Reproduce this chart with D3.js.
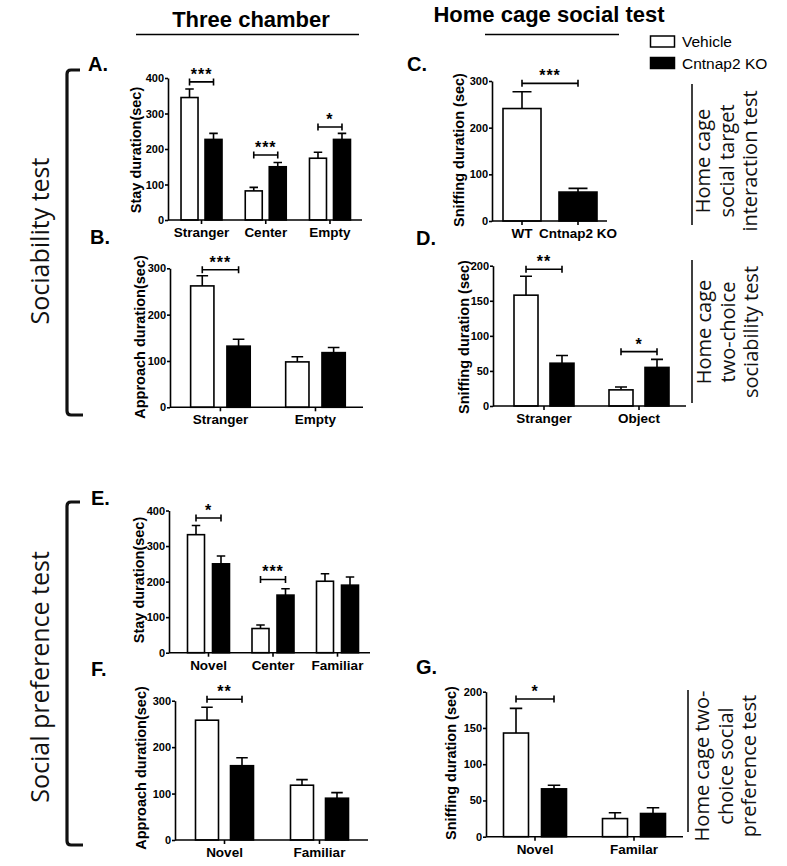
<!DOCTYPE html>
<html>
<head>
<meta charset="utf-8">
<script src="https://cdn.jsdelivr.net/npm/d3@7"></script>
<style>
  body { margin: 0; background: #fff; }
  svg { display: block; }
</style>
</head>
<body>
<svg id="fig" width="787" height="866"></svg>
<script>
// ---- data ----
var groups = ["Vehicle", "Cntnap2 KO"];

var catsA = ["Stranger", "Center", "Empty"];
var vehA = [345, 82, 174], vehSemA = [24, 10, 17];
var koA  = [227, 150, 227], koSemA = [17, 12, 17];
var ticksA = [0, 100, 200, 300, 400];
var sigA = [["Stranger", 389, "***"], ["Center", 183, "***"], ["Empty", 262, "*"]];

var catsB = ["Stranger", "Empty"];
var vehB = [262, 98], vehSemB = [22, 11];
var koB  = [132, 118], koSemB = [15, 11];
var ticksB = [0, 100, 200, 300];
var sigB = [["Stranger", 297, "***"]];

var catsC = ["WT", "Cntnap2 KO"];
var valC = [241, 62], semC = [36, 8];
var ticksC = [0, 100, 200, 300];
var sigC = [["WT", 295, "***"]];

var catsD = ["Stranger", "Object"];
var vehD = [158, 23], vehSemD = [27, 4];
var koD  = [61, 55], koSemD = [11, 11.5];
var ticksD = [0, 50, 100, 150, 200];
var sigD = [["Stranger", 195, "**"], ["Object", 77.5, "*"]];

var catsE = ["Novel", "Center", "Familiar"];
var vehE = [332, 68, 201], vehSemE = [26, 10, 21];
var koE  = [250, 162, 190], koSemE = [22, 18, 23];
var ticksE = [0, 100, 200, 300, 400];
var sigE = [["Novel", 379, "*"], ["Center", 206, "***"]];

var catsF = ["Novel", "Familiar"];
var vehF = [258, 118], vehSemF = [28, 12];
var koF  = [160, 90], koSemF = [17, 12];
var ticksF = [0, 100, 200, 300];
var sigF = [["Novel", 303, "**"]];

var catsG = ["Novel", "Familar"];
var vehG = [143, 25], vehSemG = [34, 8];
var koG  = [66, 32], koSemG = [5, 8];
var ticksG = [0, 50, 100, 150, 200];
var sigG = [["Novel", 190, "*"]];

var FONT = '"Liberation Sans", Arial, Helvetica, sans-serif';
var SIDE = '"Open Sans", "Noto Sans", sans-serif';

var svg = d3.select("#fig");

// ---- panels ----
var panels = [
  { letter: "A.", lx: 88, ly: 71, ylabel: "Stay duration(sec)", ylx: 136, yly: 150,
    cats: catsA, veh: vehA, vehSem: vehSemA, ko: koA, koSem: koSemA, ticks: ticksA, sig: sigA,
    ax: 168, axR: 362, bandL: 169.4, bandR: 362.1, y0: 220, yTop: 78, yMax: 400, barW: 17, gap: 7 },
  { letter: "B.", lx: 90, ly: 244, ylabel: "Approach duration(sec)", ylx: 140, yly: 337,
    cats: catsB, veh: vehB, vehSem: vehSemB, ko: koB, koSem: koSemB, ticks: ticksB, sig: sigB,
    ax: 170, axR: 363, bandL: 172.9, bandR: 363, y0: 407.3, yTop: 268.3, yMax: 300, barW: 23.3, gap: 13 },
  { letter: "C.", lx: 407, ly: 71, ylabel: "Sniffing duration (sec)", ylx: 459, yly: 150,
    cats: catsC, veh: valC, vehSem: semC, ko: null, ticks: ticksC, sig: sigC,
    ax: 492, axR: 607, bandL: 494, bandR: 606, y0: 221, yTop: 81, yMax: 300, barW: 38, gap: 0 },
  { letter: "D.", lx: 416, ly: 245, ylabel: "Sniffing duration (sec)", ylx: 464, yly: 337,
    cats: catsD, veh: vehD, vehSem: vehSemD, ko: koD, koSem: koSemD, ticks: ticksD, sig: sigD,
    ax: 493, axR: 686, bandL: 496.5, bandR: 686.5, y0: 406, yTop: 265.7, yMax: 200, barW: 24, gap: 12 },
  { letter: "E.", lx: 91, ly: 505, ylabel: "Stay duration(sec)", ylx: 138.5, yly: 580,
    cats: catsE, veh: vehE, vehSem: vehSemE, ko: koE, koSem: koSemE, ticks: ticksE, sig: sigE,
    ax: 169, axR: 370, bandL: 176.25, bandR: 369.75, y0: 652.7, yTop: 510.5, yMax: 400, barW: 17, gap: 8 },
  { letter: "F.", lx: 91, ly: 676, ylabel: "Approach duration(sec)", ylx: 141, yly: 768,
    cats: catsF, veh: vehF, vehSem: vehSemF, ko: koF, koSem: koSemF, ticks: ticksF, sig: sigF,
    ax: 175, axR: 368, bandL: 177, bandR: 367, y0: 840, yTop: 700.7, yMax: 300, barW: 23, gap: 12 },
  { letter: "G.", lx: 416, ly: 674, ylabel: "Sniffing duration (sec)", ylx: 451, yly: 763,
    cats: catsG, veh: vehG, vehSem: vehSemG, ko: koG, koSem: koSemG, ticks: ticksG, sig: sigG,
    ax: 486, axR: 683, bandL: 485.5, bandR: 683.5, y0: 836.7, yTop: 691.7, yMax: 200, barW: 25, gap: 13 }
];

function drawPanel(p) {
  var x = d3.scaleBand().domain(p.cats).range([p.bandL, p.bandR]);
  var y = d3.scaleLinear().domain([0, p.yMax]).range([p.y0, p.yTop]);
  var bw = x.bandwidth();
  var c = function(cat) { return x(cat) + bw / 2; };
  var off = p.gap / 2 + p.barW / 2;
  var g = svg.append("g");

  var bars = [];
  p.cats.forEach(function(cat, i) {
    if (p.ko) {
      bars.push({ cx: c(cat) - off, v: p.veh[i], e: p.vehSem[i], fill: "#fff" });
      bars.push({ cx: c(cat) + off, v: p.ko[i], e: p.koSem[i], fill: "#000" });
    } else {
      bars.push({ cx: c(cat), v: p.veh[i], e: p.vehSem[i], fill: i ? "#000" : "#fff" });
    }
  });

  g.selectAll(".err").data(bars).enter().append("path")
    .attr("d", function(d) {
      var yt = y(d.v + d.e), cw = p.barW * 0.25;
      return "M" + d.cx + "," + y(d.v) + "V" + yt + "M" + (d.cx - cw) + "," + yt + "H" + (d.cx + cw);
    })
    .attr("fill", "none").attr("stroke", "#000").attr("stroke-width", 1.6);

  g.selectAll(".bar").data(bars).enter().append("rect")
    .attr("x", function(d) { return d.cx - p.barW / 2; })
    .attr("y", function(d) { return y(d.v); })
    .attr("width", p.barW)
    .attr("height", function(d) { return y(0) - y(d.v); })
    .attr("fill", function(d) { return d.fill; })
    .attr("stroke", "#000").attr("stroke-width", 1.6);

  // axes
  var ya = g.append("g").attr("transform", "translate(" + p.ax + ",0)")
    .call(d3.axisLeft(y).tickValues(p.ticks).tickSize(3).tickSizeOuter(0).tickPadding(1));
  ya.selectAll("text").style("font", "bold 11px " + FONT).attr("fill", "#000");

  var xa = g.append("g").attr("transform", "translate(0," + p.y0 + ")")
    .call(d3.axisBottom(x).tickSize(4).tickSizeOuter(0).tickPadding(3.5));
  xa.select(".domain").remove();
  xa.selectAll("text").style("font", "bold 13.5px " + FONT).attr("fill", "#000");

  g.append("line")
    .attr("x1", p.ax).attr("x2", p.axR).attr("y1", p.y0).attr("y2", p.y0)
    .attr("stroke", "#000").attr("stroke-width", 1.6);
  g.selectAll(".domain, .tick line").attr("stroke", "#000").attr("stroke-width", 1.6);

  // y label
  g.append("text")
    .attr("transform", "translate(" + p.ylx + "," + p.yly + ") rotate(-90)")
    .attr("text-anchor", "middle").attr("dy", "0.35em")
    .style("font", "bold 14.5px " + FONT)
    .text(p.ylabel);

  // panel letter
  g.append("text").attr("x", p.lx).attr("y", p.ly)
    .style("font", "bold 20px " + FONT).text(p.letter);

  // significance brackets
  p.sig.forEach(function(s) {
    var x1, x2;
    if (p.ko) { x1 = c(s[0]) - off; x2 = c(s[0]) + off; }
    else { x1 = c(p.cats[0]); x2 = c(p.cats[1]); }
    var yy = y(s[1]);
    g.append("path")
      .attr("d", "M" + x1 + "," + (yy - 3.5) + "V" + (yy + 3.5) + "M" + x1 + "," + yy + "H" + x2 +
                 "M" + x2 + "," + (yy - 3.5) + "V" + (yy + 3.5))
      .attr("fill", "none").attr("stroke", "#000").attr("stroke-width", 1.6);
    g.append("text").attr("x", (x1 + x2) / 2).attr("y", yy - 2)
      .attr("text-anchor", "middle")
      .style("font", "bold 16px " + FONT).style("letter-spacing", "1px")
      .text(s[2]);
  });
}

panels.forEach(drawPanel);

// ---- titles ----
svg.append("text").attr("x", 251).attr("y", 27).attr("text-anchor", "middle")
  .style("font", "bold 22px " + FONT).text("Three chamber");
svg.append("line").attr("x1", 136).attr("x2", 359).attr("y1", 34.5).attr("y2", 34.5)
  .attr("stroke", "#000").attr("stroke-width", 1.5);
svg.append("text").attr("x", 549).attr("y", 22).attr("text-anchor", "middle")
  .style("font", "bold 22px " + FONT).text("Home cage social test");
svg.append("line").attr("x1", 485).attr("x2", 619).attr("y1", 34.5).attr("y2", 34.5)
  .attr("stroke", "#000").attr("stroke-width", 1.5);

// ---- legend ----
var legend = svg.append("g");
groups.forEach(function(name, i) {
  var yy = 36 + i * 21.5;
  legend.append("rect").attr("x", 650.5).attr("y", yy).attr("width", 24).attr("height", 11)
    .attr("fill", i ? "#000" : "#fff").attr("stroke", "#000").attr("stroke-width", 1.5);
  legend.append("text").attr("x", 682).attr("y", yy + 11)
    .style("font", "15.5px " + FONT).text(name);
});

// ---- right side labels ----
var sideC = ["Home cage", "social target", "interaction test"];
var sideD = ["Home cage", "two-choice", "sociability test"];
var sideG = ["Home cage two-", "choice social", "preference test"];

function sideLabel(lines, lineX, yA, yB, x0, cy) {
  svg.append("line").attr("x1", lineX).attr("x2", lineX).attr("y1", yA).attr("y2", yB)
    .attr("stroke", "#000").attr("stroke-width", 1.5);
  lines.forEach(function(t, i) {
    svg.append("text")
      .attr("transform", "translate(" + (x0 + i * 23.5) + "," + cy + ") rotate(-90)")
      .attr("text-anchor", "middle").attr("dy", "0.35em")
      .style("font", "20px " + SIDE).attr("fill", "#111")
      .text(t);
  });
}
sideLabel(sideC, 692, 84, 225, 703, 161);
sideLabel(sideD, 692, 260, 403, 704, 332);
sideLabel(sideG, 688, 690, 832, 702, 766);

// ---- left brackets ----
var leftLabels = ["Sociability test", "Social preference test"];
var leftSpans = [[70, 415, 241], [502, 845, 677]];
leftLabels.forEach(function(t, i) {
  var s = leftSpans[i];
  svg.append("path")
    .attr("d", "M80," + s[0] + "H71Q67," + s[0] + " 67," + (s[0] + 4) + "V" + (s[1] - 4) +
               "Q67," + s[1] + " 71," + s[1] + "H83")
    .attr("fill", "none").attr("stroke", "#111").attr("stroke-width", 3.2);
  svg.append("text")
    .attr("transform", "translate(40," + s[2] + ") rotate(-90)")
    .attr("text-anchor", "middle").attr("dy", "0.35em")
    .style("font", "25px " + SIDE).attr("fill", "#111")
    .text(t);
});
</script>
</body>
</html>
